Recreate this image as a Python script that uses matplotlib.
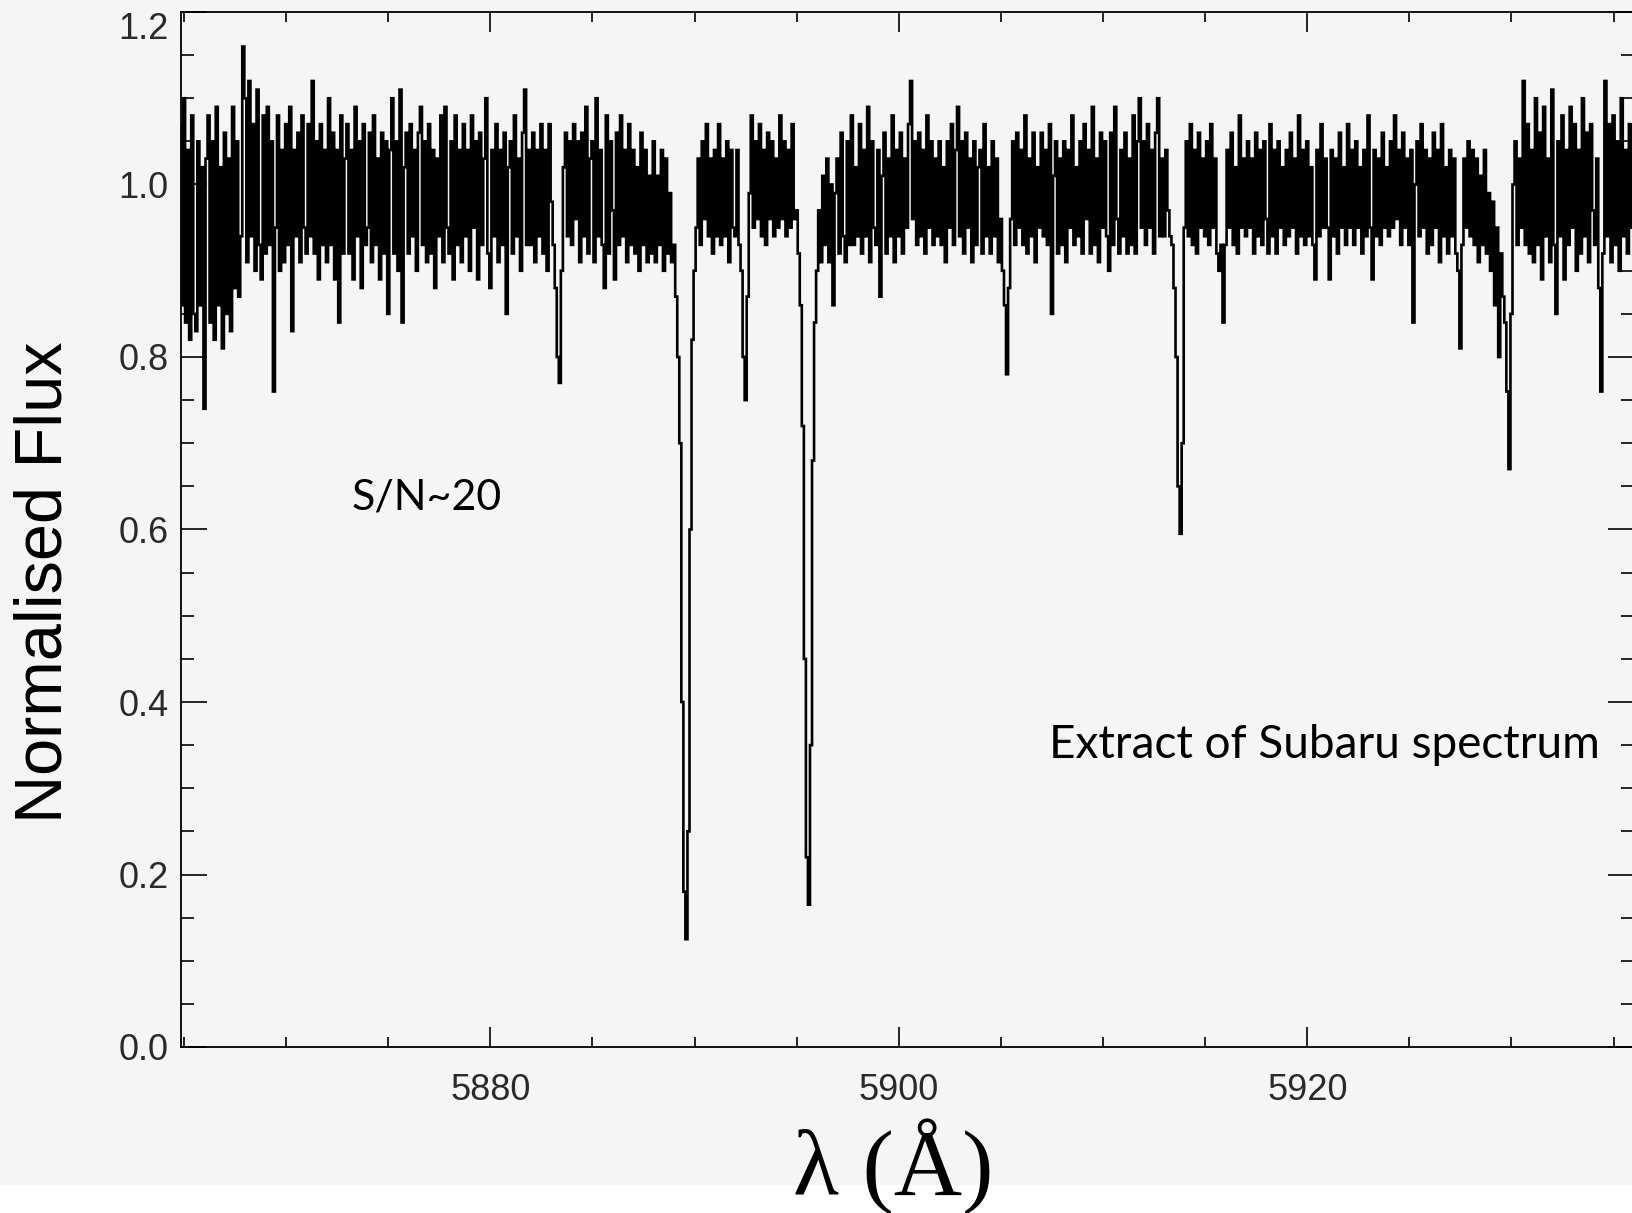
import numpy as np
import matplotlib
matplotlib.use("Agg")
import matplotlib.pyplot as plt
from matplotlib.ticker import MultipleLocator, FormatStrFormatter
from matplotlib.patches import Rectangle

# wavelength grid of the extract (Angstrom)
wave0 = 5864.8
dwave = 0.1

# normalised flux, one row per Angstrom (first row starts at 5864.8)
flux_rows = [
    [1.07, 0.86, 1.10, 0.84, 1.04, 0.82, 1.08, 0.85, 0.83, 1.05, 0.86, 1.02],  # 5864.8
    [0.74, 1.03, 1.08, 0.84, 1.05, 0.82, 1.09, 0.86, 1.02, 0.81],  # 5866
    [1.06, 0.85, 1.03, 0.83, 1.09, 0.88, 1.05, 0.87, 0.94, 1.16],
    [1.10, 0.91, 1.12, 0.94, 1.07, 0.90, 1.11, 0.93, 0.89, 1.08],
    [0.92, 1.09, 0.93, 1.05, 0.76, 0.95, 1.08, 0.90, 1.04, 0.91],
    [1.07, 0.93, 1.09, 0.83, 1.04, 0.94, 1.06, 0.91, 1.08, 0.95],  # 5870
    [0.92, 1.07, 0.94, 1.12, 0.92, 1.05, 0.89, 1.07, 0.93, 1.04],
    [0.91, 1.10, 0.93, 1.06, 0.89, 1.04, 0.84, 1.08, 0.92, 1.03],
    [1.07, 0.92, 1.04, 0.89, 1.09, 0.94, 1.05, 0.88, 1.07, 0.93],
    [0.95, 1.06, 0.91, 1.08, 0.93, 1.03, 0.89, 1.06, 0.92, 1.05],
    [0.85, 1.04, 1.10, 0.92, 1.05, 0.90, 1.11, 0.84, 1.02, 1.06],  # 5875
    [0.92, 1.07, 0.94, 1.04, 0.90, 1.06, 1.09, 0.93, 1.05, 0.91],
    [1.07, 0.92, 1.04, 0.88, 1.03, 0.94, 1.08, 0.91, 1.09, 0.95],
    [0.92, 1.05, 0.89, 1.08, 0.93, 1.04, 0.91, 1.07, 0.94, 1.04],
    [0.90, 1.08, 0.95, 1.05, 0.89, 1.06, 0.93, 1.03, 1.10, 0.92],
    [0.88, 1.04, 0.94, 1.07, 0.91, 1.04, 0.93, 1.06, 0.85, 1.02],  # 5880
    [1.05, 0.92, 1.08, 0.94, 1.03, 0.90, 1.06, 1.11, 0.93, 1.04],
    [0.93, 1.06, 0.91, 1.04, 0.94, 1.07, 0.92, 1.04, 0.90, 1.07],
    [0.98, 0.93, 0.88, 0.80, 0.77, 0.90, 1.02, 1.06, 0.94, 1.05],
    [0.93, 1.07, 0.96, 1.05, 0.91, 1.06, 0.94, 1.09, 0.92, 1.03],
    [1.05, 0.91, 1.10, 0.94, 1.04, 0.93, 0.88, 1.08, 0.92, 1.05],  # 5885
    [0.97, 0.89, 1.06, 0.93, 1.08, 0.94, 1.04, 0.91, 1.07, 0.93],
    [1.04, 0.92, 1.02, 0.90, 1.06, 0.93, 1.04, 0.91, 1.01, 0.92],
    [1.05, 0.91, 1.01, 0.93, 1.04, 0.90, 1.03, 0.92, 0.99, 0.91],
    [0.93, 0.87, 0.80, 0.70, 0.40, 0.18, 0.125, 0.25, 0.60, 0.82],  # Na D2
    [0.90, 0.95, 1.03, 0.93, 1.05, 0.96, 1.07, 0.94, 1.03, 0.92],  # 5890
    [1.04, 0.94, 1.07, 0.93, 1.03, 0.94, 1.05, 0.91, 1.04, 0.95],
    [0.94, 1.04, 0.93, 0.90, 0.80, 0.75, 0.87, 0.99, 1.08, 0.95],
    [1.05, 0.96, 1.07, 0.94, 1.04, 0.93, 1.06, 0.96, 1.05, 0.94],
    [1.03, 0.95, 1.08, 0.96, 1.05, 0.94, 1.04, 0.95, 1.07, 0.96],
    [0.97, 0.92, 0.86, 0.72, 0.45, 0.22, 0.165, 0.35, 0.68, 0.84],  # Na D1
    [0.90, 0.97, 0.91, 1.01, 0.93, 1.03, 0.91, 1.00, 0.86, 0.99],
    [1.03, 0.92, 1.06, 0.94, 0.91, 1.05, 0.93, 1.08, 0.93, 1.02],
    [0.94, 1.07, 0.92, 1.04, 0.94, 1.09, 0.91, 1.05, 0.95, 0.93],
    [1.04, 0.87, 1.01, 1.06, 0.92, 1.03, 0.94, 1.08, 0.91, 1.04],
    [0.94, 1.06, 0.92, 1.03, 0.95, 1.07, 1.12, 0.96, 1.05, 0.93],  # 5900
    [1.06, 0.94, 1.04, 0.92, 1.08, 0.95, 1.05, 0.93, 1.03, 0.94],
    [1.05, 0.93, 1.02, 0.91, 1.05, 0.95, 1.07, 0.93, 1.04, 1.09],
    [0.94, 1.05, 0.92, 1.06, 0.95, 1.03, 0.91, 1.05, 0.93, 1.02],
    [1.04, 0.92, 1.07, 0.94, 1.02, 0.92, 1.05, 0.94, 1.03, 0.91],
    [0.96, 0.90, 0.86, 0.78, 0.88, 0.96, 1.05, 0.93, 1.06, 0.95],  # 5905
    [1.04, 0.93, 1.08, 0.92, 1.03, 0.94, 1.06, 0.91, 1.02, 0.95],
    [1.06, 0.94, 1.04, 0.93, 1.07, 0.85, 1.01, 1.05, 0.92, 1.03],
    [0.93, 1.05, 0.91, 1.04, 0.95, 1.08, 0.93, 1.02, 0.94, 1.05],
    [0.92, 1.07, 0.96, 1.04, 0.92, 1.09, 0.93, 1.03, 0.91, 1.06],
    [0.95, 1.05, 0.94, 0.90, 1.06, 0.93, 1.09, 0.96, 0.92, 1.04],  # 5910
    [0.94, 1.06, 0.92, 1.03, 0.93, 1.08, 0.92, 1.05, 1.10, 0.95],
    [1.05, 0.93, 1.07, 0.95, 1.04, 0.92, 1.06, 1.10, 0.94, 1.03],
    [0.94, 1.04, 0.97, 0.94, 0.93, 0.88, 0.80, 0.65, 0.595, 0.70],
    [0.95, 1.05, 0.94, 1.07, 0.93, 1.04, 0.92, 1.06, 0.95, 1.03],
    [0.94, 1.05, 0.93, 1.07, 0.95, 1.03, 0.92, 0.90, 0.93, 0.84],  # 5915
    [0.93, 1.04, 0.95, 1.06, 0.93, 1.02, 0.92, 1.08, 0.95, 1.03],
    [0.94, 1.05, 0.95, 1.03, 0.92, 1.06, 0.94, 1.04, 0.93, 1.05],
    [0.96, 0.92, 1.07, 0.94, 1.04, 0.92, 1.05, 0.95, 1.02, 0.93],
    [1.04, 0.94, 1.06, 0.95, 1.03, 0.92, 1.08, 0.94, 1.04, 0.93],
    [1.05, 0.94, 1.02, 0.93, 0.89, 1.04, 0.94, 1.07, 0.95, 1.03],  # 5920
    [0.95, 0.89, 1.04, 0.94, 1.03, 0.92, 1.06, 0.95, 1.02, 0.93],
    [1.07, 0.95, 1.04, 0.93, 1.05, 0.95, 1.02, 0.92, 1.04, 0.94],
    [1.08, 0.95, 0.89, 1.04, 0.94, 1.03, 0.93, 1.06, 0.95, 1.02],
    [0.94, 1.05, 0.95, 1.08, 0.96, 1.04, 0.93, 1.06, 0.95, 1.03],
    [0.93, 1.04, 0.84, 1.00, 1.05, 0.94, 1.07, 0.95, 1.04, 0.92],  # 5925
    [1.03, 0.93, 1.06, 0.95, 1.04, 0.91, 1.07, 0.94, 1.02, 0.92],
    [1.04, 0.94, 1.03, 0.92, 0.90, 0.81, 0.93, 1.03, 0.95, 1.05],
    [0.94, 1.04, 0.93, 1.03, 0.91, 1.01, 0.93, 1.04, 0.92, 0.99],
    [0.90, 0.98, 0.86, 0.95, 0.80, 0.92, 0.87, 0.84, 0.76, 0.67],
    [0.85, 1.00, 1.05, 0.93, 1.03, 0.95, 1.12, 0.93, 1.07, 0.92],  # 5930
    [1.04, 0.91, 1.10, 0.93, 1.06, 0.89, 1.09, 0.94, 1.03, 0.91],
    [1.11, 0.93, 0.85, 1.05, 0.94, 1.08, 0.89, 1.04, 0.93, 1.09],
    [0.95, 1.07, 0.90, 1.04, 0.92, 1.10, 0.94, 1.06, 0.91, 1.07],
    [0.97, 0.93, 1.03, 0.88, 0.76, 0.92, 1.12, 0.94, 1.07, 0.91],
    [1.08, 0.93, 1.05, 0.90, 1.10, 0.94, 1.04, 0.92, 1.07, 0.95],  # 5935
    [1.01],
]

xlim = (5864.85, 5936.0)
ylim = (0.0, 1.2)
x_ticks_major = 20
x_ticks_minor = 5
y_ticks_major = 0.2
y_ticks_minor = 0.05

note_sn = "S/N~20"
note_src = "Extract of Subaru spectrum"
ylabel = "Normalised Flux"
xlabel = "λ (Å)"

flux = np.concatenate([np.array(r) for r in flux_rows])
wave = wave0 + dwave * np.arange(len(flux))

bg = "#f5f5f5"
fig = plt.figure(figsize=(16.32, 12.13), dpi=100, facecolor=bg)
fig.add_artist(Rectangle((0, 0), 1, 28 / 1213, transform=fig.transFigure,
                         facecolor="white", edgecolor="none", zorder=0))

ax = fig.add_axes([181 / 1632, 1 - 1047 / 1213, 1453 / 1632, 1035 / 1213])
ax.set_facecolor(bg)

ax.plot(wave, flux, color="black", lw=1.9, drawstyle="steps-mid",
        solid_joinstyle="miter")

ax.set_xlim(*xlim)
ax.set_ylim(*ylim)
ax.xaxis.set_major_locator(MultipleLocator(x_ticks_major))
ax.xaxis.set_minor_locator(MultipleLocator(x_ticks_minor))
ax.yaxis.set_major_locator(MultipleLocator(y_ticks_major))
ax.yaxis.set_minor_locator(MultipleLocator(y_ticks_minor))
ax.yaxis.set_major_formatter(FormatStrFormatter("%.1f"))

for s in ax.spines.values():
    s.set_linewidth(1.3)
ax.tick_params(axis="both", which="both", direction="in", top=True, right=True,
               colors="black", labelcolor="#2a2a2a", width=1.2)
ax.tick_params(axis="x", which="major", length=14.5, pad=19, labelsize=26)
ax.tick_params(axis="x", which="minor", length=7.5)
ax.tick_params(axis="y", which="major", length=19, pad=9, labelsize=26)
ax.tick_params(axis="y", which="minor", length=9.5)
fig.canvas.draw()
for lab in ax.get_xticklabels() + ax.get_yticklabels():
    lab.set_family("Liberation Sans")
# the top label sits just below the frame corner, as in the original
for tick in ax.yaxis.get_major_ticks():
    if abs(tick.get_loc() - ylim[1]) < 1e-6:
        tick.label1.set_va("top")

ax.text(5873.22, 0.623, note_sn, fontsize=31, family="Lato", ha="left", va="baseline")
ax.text(5907.34, 0.335, note_src, fontsize=33, family="Lato", ha="left", va="baseline")

fig.text(45 / 1632, 1 - 582 / 1213, ylabel, rotation=90, ha="center", va="center",
         fontsize=48, family="Liberation Sans")
fig.text(893 / 1632, 1 - 1195 / 1213, xlabel, ha="center", va="baseline",
         fontsize=68, family="Liberation Serif", zorder=5)

fig.savefig("out.png", dpi=100, facecolor=bg)
